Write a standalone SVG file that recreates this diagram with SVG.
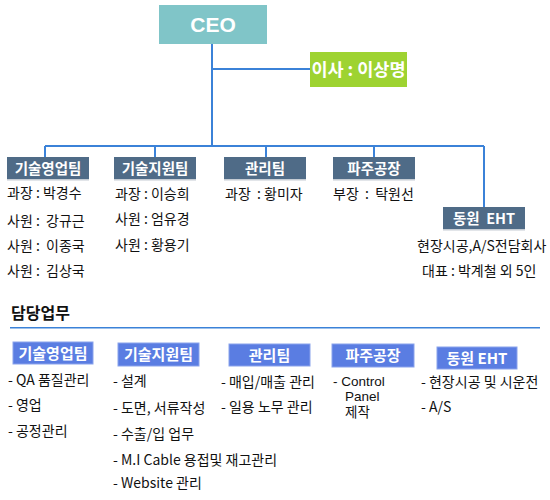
<svg xmlns="http://www.w3.org/2000/svg" width="550" height="500" viewBox="0 0 550 500">
<style>
text{white-space:pre}
.t{font-family:"Noto Sans CJK KR","Liberation Sans",sans-serif;font-size:14px;fill:#111}
.l{font-family:"Liberation Sans","Noto Sans CJK KR",sans-serif;font-size:13.5px;fill:#111}
.hd{font-family:"Noto Sans CJK KR","Liberation Sans",sans-serif;font-size:14.5px;font-weight:bold;fill:#fff;text-anchor:middle}
.dk{fill:#4f6b87}
.sh{fill:#c5ccd4}
.bl{fill:#5a7de2;stroke:#8aa3ec;stroke-width:1}
.ln{stroke:#3b82d8;stroke-width:2;fill:none}
</style>
<g id="connectors">
<path class="ln" d="M212 44V146M212 69H310M45 146H484M45 146V157M155 146V157M266 146V157M374 146V157M484 146V207"/>
</g>
<g id="ceo">
<rect x="159" y="5" width="108" height="39" fill="#80c5c8"/>
<text x="213" y="32" font-family="Liberation Sans,Arial,sans-serif" font-size="21" font-weight="bold" fill="#fff" text-anchor="middle">CEO</text>
</g>
<g id="director">
<rect x="310" y="52" width="97" height="35" fill="#9ed331"/>
<text x="358.5" y="76" class="hd" style="font-size:17.5px">이사 : 이상명</text>
</g>
<g id="team-sales">
<rect class="dk" x="7" y="157" width="82" height="22"/><rect class="sh" x="7" y="179" width="82" height="1.5"/>
<text x="48" y="173.5" class="hd">기술영업팀</text>
<text class="t" x="7" y="198">과장 : 박경수</text>
<text class="t" x="7" y="226">사원 :  강규근</text>
<text class="t" x="7" y="251">사원 :  이종국</text>
<text class="t" x="7" y="276">사원 :  김상국</text>
</g>
<g id="team-support">
<rect class="dk" x="114" y="157" width="82" height="22"/><rect class="sh" x="114" y="179" width="82" height="1.5"/>
<text x="155" y="173.5" class="hd">기술지원팀</text>
<text class="t" x="115" y="199">과장 : 이승희</text>
<text class="t" x="115" y="224">사원 : 엄유경</text>
<text class="t" x="115" y="250">사원 : 황용기</text>
</g>
<g id="team-admin">
<rect class="dk" x="224" y="157" width="82" height="22"/><rect class="sh" x="224" y="179" width="82" height="1.5"/>
<text x="265" y="173.5" class="hd">관리팀</text>
<text class="t" x="225" y="199">과장  : 황미자</text>
</g>
<g id="team-factory">
<rect class="dk" x="333" y="157" width="82" height="22"/><rect class="sh" x="333" y="179" width="82" height="1.5"/>
<text x="374" y="173.5" class="hd">파주공장</text>
<text class="t" x="333" y="199">부장  :  탁원선</text>
</g>
<g id="team-eht">
<rect class="dk" x="443" y="207" width="82" height="22"/><rect class="sh" x="443" y="229" width="82" height="1.5"/>
<text x="484" y="223.5" class="hd">동원  EHT</text>
<text class="t" x="417" y="251">현장시공,A/S전담회사</text>
<text class="t" x="422" y="276">대표 : 박계철 외 5인</text>
</g>
<g id="duties-title">
<text x="11" y="319" font-family="Noto Sans CJK KR,sans-serif" font-size="16" font-weight="bold" fill="#111">담당업무</text>
<rect x="10" y="327" width="530" height="1.5" fill="#3b82d8"/>
</g>
<g id="duty-sales">
<rect class="bl" x="13" y="342" width="80" height="22"/>
<text x="53" y="358.5" class="hd" style="font-size:15px">기술영업팀</text>
<text class="t" x="8" y="385">- QA 품질관리</text>
<text class="t" x="8" y="410">- 영업</text>
<text class="t" x="8" y="436">- 공정관리</text>
</g>
<g id="duty-support">
<rect class="bl" x="118" y="343" width="81" height="23"/>
<text x="158.5" y="360" class="hd" style="font-size:15px">기술지원팀</text>
<text class="t" x="113" y="386">- 설계</text>
<text class="t" x="113" y="413">- 도면, 서류작성</text>
<text class="t" x="113" y="439">- 수출/입 업무</text>
<text class="t" x="113" y="465">- M.I Cable 용접및 재고관리</text>
<text class="t" x="113" y="488">- Website 관리</text>
</g>
<g id="duty-admin">
<rect class="bl" x="229" y="344" width="81" height="22"/>
<text x="269.5" y="360.5" class="hd" style="font-size:15px">관리팀</text>
<text class="t" x="221" y="387">- 매입/매출 관리</text>
<text class="t" x="221" y="412">- 일용 노무 관리</text>
</g>
<g id="duty-factory">
<rect class="bl" x="332" y="344" width="82" height="23"/>
<text x="373" y="361" class="hd" style="font-size:15px">파주공장</text>
<text class="l" x="333" y="386">- Control</text>
<text class="l" x="345" y="401">Panel</text>
<text class="l" x="345" y="416.5">제작</text>
</g>
<g id="duty-eht">
<rect class="bl" x="437" y="347" width="80" height="22"/>
<text x="477" y="363.5" class="hd" style="font-size:15px">동원 EHT</text>
<text class="t" x="421" y="387">- 현장시공 및 시운전</text>
<text class="t" x="421" y="412">- A/S</text>
</g>
</svg>
